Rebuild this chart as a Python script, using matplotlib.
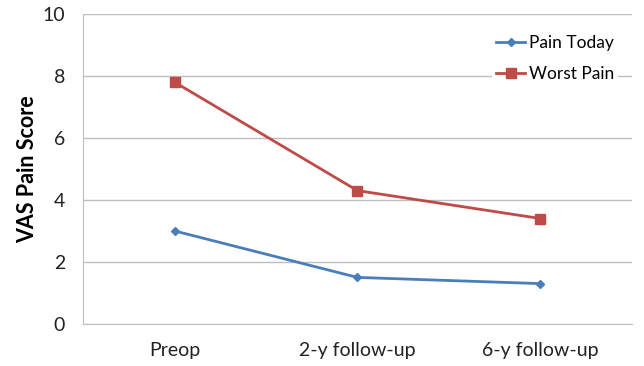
import numpy as np
import matplotlib.pyplot as plt

plt.rcParams['font.family'] = ['Lato', 'DejaVu Sans']

categories = ["Preop", "2-y follow-up", "6-y follow-up"]
pain_today = [3.0, 1.5, 1.3]
worst_pain = [7.8, 4.3, 3.4]
yticks = [0, 2, 4, 6, 8, 10]

fig = plt.figure(figsize=(6.44, 3.66), dpi=100)
ax = fig.add_axes([0.129, 0.115, 0.852, 0.847])

x = np.arange(len(categories))
ax.plot(x, pain_today, color='#4A7EBB', lw=2, marker='D', ms=4.5, label='Pain Today', zorder=3)
ax.plot(x, worst_pain, color='#BE4B48', lw=2, marker='s', ms=6.5, label='Worst Pain', zorder=3)

ax.set_xlim(-0.5, 2.5)
ax.set_ylim(0, 10)
ax.set_xticks(x)
ax.set_xticklabels(categories)
ax.set_yticks(yticks)
ax.tick_params(length=0, labelsize=14, colors='#222222')
ax.tick_params(axis='y', pad=13)
ax.tick_params(axis='x', pad=13)
ax.grid(axis='y', color='#BEBEBE', lw=1)
ax.set_axisbelow(True)
for s in ['top', 'right']:
    ax.spines[s].set_visible(False)
for s in ['left', 'bottom']:
    ax.spines[s].set_color('#BEBEBE')
ax.set_ylabel('VAS Pain Score', fontsize=15.5, fontweight='bold', labelpad=3)

leg = ax.legend(loc='upper right', bbox_to_anchor=(0.99, 0.97), frameon=True,
                fontsize=12.5, handlelength=1.7, handletextpad=0.2, labelspacing=0.85,
                borderpad=0.2)
leg.get_frame().set_edgecolor('none')
leg.get_frame().set_facecolor('white')
leg.get_frame().set_alpha(1)

fig.savefig('out.png', dpi=100)
